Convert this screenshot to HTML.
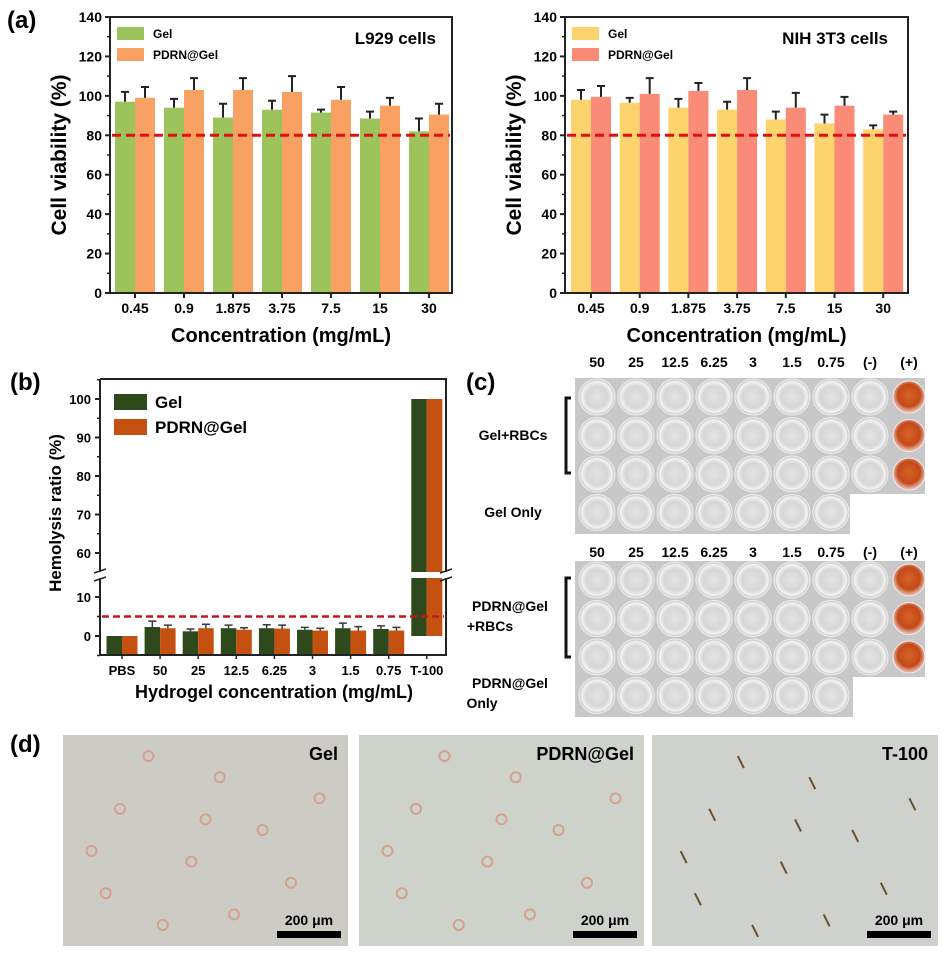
<!DOCTYPE html>
<html><head><meta charset="utf-8"><style>
html,body{margin:0;padding:0;background:#fff;}
svg{display:block;font-family:"Liberation Sans",Arial,sans-serif;font-weight:bold;}
</style></head><body>
<svg id="fig" width="945" height="954" viewBox="0 0 945 954" xmlns="http://www.w3.org/2000/svg">
<defs>
<radialGradient id="well" cx="50%" cy="50%" r="50%">
<stop offset="0" stop-color="#e4e4e4"/><stop offset="0.6" stop-color="#d6d6d6"/><stop offset="0.85" stop-color="#f2f2f2"/><stop offset="1" stop-color="#bdbdbd"/>
</radialGradient>
<radialGradient id="redwell" cx="50%" cy="45%" r="50%">
<stop offset="0" stop-color="#d8632a"/><stop offset="0.7" stop-color="#c24a18"/><stop offset="1" stop-color="#e6b0a0"/>
</radialGradient>
</defs>
<g id="a1"></g>
<g id="a2"></g>
<g id="b"></g>
<g id="c"></g>
<g id="d"></g>
<text x="7" y="28" font-size="24">(a)</text>
<text x="10" y="390" font-size="24">(b)</text>
<text x="466" y="390" font-size="24">(c)</text>
<text x="10" y="752" font-size="24">(d)</text>
</svg>
<script>
const concCats = ["0.45","0.9","1.875","3.75","7.5","15","30"];
const yTicksA = [0,20,40,60,80,100,120,140];
const l929Gel = [97,94,89,93,91.5,88.5,82];
const l929GelErr = [5,4.5,7,4.5,1.5,3.5,6.5];
const l929Pdrn = [99,103,103,102,98,95,90.5];
const l929PdrnErr = [5.5,6,6,8,6.5,4,5.5];
const nihGel = [98,96.5,94,93,88,86,83];
const nihGelErr = [5,2.5,4.5,4,4,4.5,2];
const nihPdrn = [99.5,101,102.5,103,94,95,90.5];
const nihPdrnErr = [5.5,8,4,6,7.5,4.5,1.5];
const thresholdA = 80;
const hemoCats = ["PBS","50","25","12.5","6.25","3","1.5","0.75","T-100"];
const hemoGel = [0,2.3,1.2,2,2,1.6,2,1.8,100];
const hemoGelErr = [0,1.5,0.6,0.8,0.9,0.6,1.3,0.8,0];
const hemoPdrn = [0,2,2,1.6,1.9,1.4,1.4,1.4,100];
const hemoPdrnErr = [0,0.8,1,0.5,0.9,0.6,1,0.8,0];
const yTicksBUpper = [60,70,80,90,100];
const yTicksBLower = [0,10];
const thresholdB = 5;
const plateCols = ["50","25","12.5","6.25","3","1.5","0.75","(-)","(+)"];

const NS="http://www.w3.org/2000/svg";
function mk(parent,tag,attrs,text){const e=document.createElementNS(NS,tag);for(const k in attrs)e.setAttribute(k,attrs[k]);if(text!==undefined)e.textContent=text;parent.appendChild(e);return e;}

function drawA(g,x0,x1,c0,step,gel,gelErr,pd,pdErr,colG,colP,title,titleX){
  const yT=17,yB=293;
  const y=v=>yB-(v/140)*(yB-yT);
  const xc=i=>c0+i*step;
  for(let i=0;i<concCats.length;i++){
    let b=mk(g,'rect',{x:xc(i)-20,y:y(gel[i]),width:20,height:yB-y(gel[i]),fill:colG});
    
    
    let p=mk(g,'rect',{x:xc(i),y:y(pd[i]),width:20,height:yB-y(pd[i]),fill:colP});
    
    
    let e1=mk(g,'path',{d:`M${xc(i)-10} ${y(gel[i])}V${y(gel[i]+gelErr[i])}M${xc(i)-14} ${y(gel[i]+gelErr[i])}H${xc(i)-6}`,stroke:'#222','stroke-width':2,fill:'none'});
    
    
    let e2=mk(g,'path',{d:`M${xc(i)+10} ${y(pd[i])}V${y(pd[i]+pdErr[i])}M${xc(i)+6} ${y(pd[i]+pdErr[i])}H${xc(i)+14}`,stroke:'#222','stroke-width':2,fill:'none'});
    
    
    let t=mk(g,'text',{x:xc(i),y:313,'font-size':14,'text-anchor':'middle'},concCats[i]);
    
    
  }
  let th=mk(g,'line',{x1:x0+2,x2:x1-2,y1:y(thresholdA),y2:y(thresholdA),stroke:'#e01010','stroke-width':3,'stroke-dasharray':'9 5'});
  
  
  let fr=mk(g,'rect',{x:x0,y:yT,width:x1-x0,height:yB-yT,fill:'none',stroke:'#222','stroke-width':2});
  
  
  for(const v of yTicksA){
    mk(g,'line',{x1:x0-5,x2:x0,y1:y(v),y2:y(v),stroke:'#222','stroke-width':2});
    if(v<140)mk(g,'line',{x1:x0-3,x2:x0,y1:y(v+10),y2:y(v+10),stroke:'#222','stroke-width':1.5});
    let t=mk(g,'text',{x:x0-8,y:y(v)+5,'font-size':14,'text-anchor':'end'},String(v));
    
    
  }
  for(let i=0;i<concCats.length;i++)mk(g,'line',{x1:xc(i),x2:xc(i),y1:yB,y2:yB+5,stroke:'#222','stroke-width':2});
  let yl=mk(g,'text',{x:0,y:0,'font-size':21,'text-anchor':'middle',transform:`translate(${x0-44},155) rotate(-90)`},'Cell viability (%)');
  
  
  let xl=mk(g,'text',{x:(x0+x1)/2,y:342,'font-size':20,'text-anchor':'middle'},'Concentration (mg/mL)');
  
  
  mk(g,'rect',{x:x0+7,y:27,width:27,height:13,fill:colG});
  let l1=mk(g,'text',{x:x0+43,y:38,'font-size':12},'Gel');
  
  
  mk(g,'rect',{x:x0+7,y:48,width:27,height:13,fill:colP});
  let l2=mk(g,'text',{x:x0+43,y:59,'font-size':12},'PDRN@Gel');
  
  
  let ct=mk(g,'text',{x:titleX,y:44,'font-size':17,'text-anchor':'end'},title);
  
  
}
drawA(document.getElementById('a1'),110,452,135,49,l929Gel,l929GelErr,l929Pdrn,l929PdrnErr,'#9cc35c','#f9a163','L929 cells',436);
drawA(document.getElementById('a2'),565,908,591,48.7,nihGel,nihGelErr,nihPdrn,nihPdrnErr,'#fcd36c','#f98b77','NIH 3T3 cells',888);

// panel b
(function(){
  const g=document.getElementById('b');
  const x0=100,x1=446,yT=379,yB=655;
  const yu=v=>399+(100-v)*3.85;
  const yl=v=>636-v*3.9;
  const xc=i=>122+i*38.1;
  const brkTop=572,brkBot=578;
  for(let i=0;i<hemoCats.length;i++){
    const vals=[[hemoGel[i],hemoGelErr[i],'#2e4a1d',-15.5,'gel'],[hemoPdrn[i],hemoPdrnErr[i],'#c4510f',0,'pdrn']];
    for(const [v,e,c,off,nm] of vals){
      if(v>15){
        let r1=mk(g,'rect',{x:xc(i)+off,y:yu(v),width:15.5,height:brkTop-yu(v),fill:c});
        
        
        let r2=mk(g,'rect',{x:xc(i)+off,y:brkBot,width:15.5,height:yl(0)-brkBot,fill:c});
        
        
      } else {
        let r=mk(g,'rect',{x:xc(i)+off,y:yl(v),width:15.5,height:Math.max(yB-1-yl(v),0),fill:c});
        
        
        if(e>0){
          const cx=xc(i)+off+7.75;
          let eb=mk(g,'path',{d:`M${cx} ${yl(v)}V${yl(v+e)}M${cx-4} ${yl(v+e)}H${cx+4}`,stroke:'#3a3a3a','stroke-width':1.5,fill:'none'});
          
          
        }
      }
    }
    mk(g,'line',{x1:xc(i),x2:xc(i),y1:yB,y2:yB+4,stroke:'#222','stroke-width':1.5});
    let t=mk(g,'text',{x:xc(i),y:675,'font-size':13,'text-anchor':'middle'},hemoCats[i]);
    
    
  }
  let th=mk(g,'line',{x1:x0+2,x2:x1-2,y1:yl(thresholdB),y2:yl(thresholdB),stroke:'#c01818','stroke-width':2.5,'stroke-dasharray':'7 4'});
  
  
  mk(g,'path',{d:`M${x0} ${yT}H${x1}V${brkTop}M${x1} ${brkBot}V${yB}H${x0}V${brkBot}M${x0} ${brkTop}V${yT}`,stroke:'#222','stroke-width':2,fill:'none'});
  mk(g,'path',{d:`M${x0-6} ${brkTop+1}L${x0+6} ${brkTop-3}M${x0-6} ${brkBot+3}L${x0+6} ${brkBot-1}M${x1-6} ${brkTop+1}L${x1+6} ${brkTop-3}M${x1-6} ${brkBot+3}L${x1+6} ${brkBot-1}`,stroke:'#222','stroke-width':1.5});
  for(const v of yTicksBUpper){
    mk(g,'line',{x1:x0-5,x2:x0,y1:yu(v),y2:yu(v),stroke:'#222','stroke-width':2});
    mk(g,'line',{x1:x0-3,x2:x0,y1:yu(v+5),y2:yu(v+5),stroke:'#222','stroke-width':1.5});
    let t=mk(g,'text',{x:x0-9,y:yu(v)+5,'font-size':13,'text-anchor':'end'},String(v));
    
    
  }
  for(const v of yTicksBLower){
    mk(g,'line',{x1:x0-5,x2:x0,y1:yl(v),y2:yl(v),stroke:'#222','stroke-width':2});
    mk(g,'line',{x1:x0-3,x2:x0,y1:yl(v-5),y2:yl(v-5),stroke:'#222','stroke-width':1.5});
    let t=mk(g,'text',{x:x0-9,y:yl(v)+5,'font-size':13,'text-anchor':'end'},String(v));
    
    
  }
  let ylb=mk(g,'text',{x:0,y:0,'font-size':17,'text-anchor':'middle',transform:'translate(61,513) rotate(-90)'},'Hemolysis ratio (%)');
  
  
  let xlb=mk(g,'text',{x:274,y:698,'font-size':18,'text-anchor':'middle'},'Hydrogel concentration (mg/mL)');
  
  
  mk(g,'rect',{x:114,y:394,width:33,height:16,fill:'#2e4a1d'});
  let l1=mk(g,'text',{x:155,y:408,'font-size':17},'Gel');
  
  
  mk(g,'rect',{x:114,y:419,width:33,height:16,fill:'#c4510f'});
  let l2=mk(g,'text',{x:155,y:433,'font-size':17},'PDRN@Gel');
  
  
})();

// panel c
(function(){
  const g=document.getElementById('c');
  function plate(top,labelY,lastRowW){
    mk(g,'rect',{x:575,y:top,width:350,height:116,fill:'#c8c8c8'});
    mk(g,'rect',{x:575,y:top+116,width:lastRowW,height:40,fill:'#c8c8c8'});
    for(let c=0;c<plateCols.length;c++){
      const cx=597+c*39;
      let t=mk(g,'text',{x:cx,y:labelY,'font-size':14,'text-anchor':'middle'},plateCols[c]);
      
      
      for(let r=0;r<4;r++){
        if(r===3&&c>6)continue;
        const cy=top+19+r*38.5;
        const red=(c===8);
        let w=mk(g,'circle',{cx:cx,cy:cy,r:red?16:18,fill:red?'url(#redwell)':'url(#well)',stroke:'#eeeeee','stroke-width':1});
        
        
      }
    }
  }
  plate(378,367,275);
  plate(561,557,278);
  const labels=[["Gel+RBCs",513,440],["Gel Only",513,517],["PDRN@Gel",510,611],["+RBCs",490,631],["PDRN@Gel",510,688],["Only",482,708]];
  for(const [s,x,y] of labels){
    let t=mk(g,'text',{x:x,y:y,'font-size':14,'text-anchor':'middle'},s);
    
    
  }
  mk(g,'path',{d:'M571 398H566V473H571M571 578H566V657H571',stroke:'#111','stroke-width':3,fill:'none'});
})();

// panel d
(function(){
  const g=document.getElementById('d');
  const panels=[[63,285,'Gel','#ccccc4'],[359,285,'PDRN@Gel','#cdd2ca'],[652,286,'T-100','#cfd2cc']];
  const circ=[[0.3,0.1],[0.55,0.2],[0.2,0.35],[0.7,0.45],[0.45,0.6],[0.15,0.75],[0.8,0.7],[0.6,0.85],[0.35,0.9],[0.9,0.3],[0.1,0.55],[0.5,0.4]];
  panels.forEach(([x,w,lab,bg],k)=>{
    let r=mk(g,'rect',{x:x,y:735,width:w,height:211,fill:bg});
    
    
    for(const [fx,fy] of circ){
      if(k<2) mk(g,'circle',{cx:x+fx*w,cy:735+fy*211,r:5,fill:'none',stroke:'#d6a090','stroke-width':2});
      else mk(g,'line',{x1:x+fx*w,y1:735+fy*211,x2:x+fx*w+6,y2:735+fy*211+12,stroke:'#6b5030','stroke-width':2});
    }
    let t=mk(g,'text',{x:x+w-10,y:760,'font-size':18,'text-anchor':'end'},lab);
    
    
    let s=mk(g,'text',{x:x+w-39,y:925,'font-size':14,'text-anchor':'middle'},'200 μm');
    
    
    let b=mk(g,'rect',{x:x+w-71,y:931,width:64,height:7,fill:'#000'});
    
    
  });
})();
</script>
</body></html>
